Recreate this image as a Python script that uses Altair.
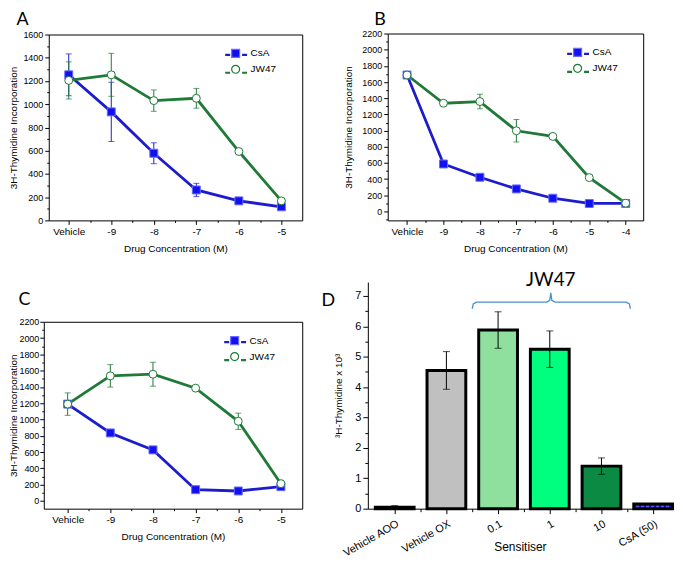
import altair as alt
import pandas as pd

# ---------------- data ----------------
A_labels = ["Vehicle", "-9", "-8", "-7", "-6", "-5"]
A_csa = [1253, 934, 578, 262, 168, 117]
A_csa_err = [180, 255, 90, 57, 0, 0]
A_jw = [1205, 1253, 1031, 1051, 593, 168]
A_jw_err = [160, 185, 92, 85, 15, 15]

B_labels = ["Vehicle", "-9", "-8", "-7", "-6", "-5", "-4"]
B_csa = [1687, 587, 423, 279, 164, 99, 99]
B_csa_err = [40, 0, 0, 0, 0, 0, 0]
B_jw = [1687, 1338, 1359, 998, 928, 419, 103]
B_jw_err = [40, 20, 90, 140, 20, 30, 30]

C_labels = ["Vehicle", "-9", "-8", "-7", "-6", "-5"]
C_csa = [1189, 835, 627, 138, 122, 175]
C_csa_err = [0, 0, 0, 0, 0, 0]
C_jw = [1189, 1536, 1556, 1385, 978, 212]
C_jw_err = [138, 138, 147, 15, 100, 40]

D_cats = ["Vehicle AOO", "Vehicle OX", "0.1", "1", "10", "CsA (50)"]
D_vals = [0.05, 4.55, 5.88, 5.25, 1.40, 0.15]
D_err = [0.05, 0.62, 0.60, 0.60, 0.27, 0.0]
D_colors = ["#000000", "#C0C0C0", "#8FE09E", "#00FF7F", "#0B8A44", "#1616A6"]

BRACE_X = [1.50, 1.52, 1.58, 2.94, 3.00, 3.02, 3.04, 3.10, 4.48, 4.54, 4.56]
BRACE_Y = [6.58, 6.74, 6.80, 6.80, 6.86, 7.10, 6.86, 6.80, 6.80, 6.74, 6.58]
BRACE_LABEL = ["JW47"]
BRACE_LABEL_X = [3.02]
BRACE_LABEL_Y = [7.33]

SERIES = ["CsA", "JW47"]

# ---------------- style / layout ----------------
FONT = "Liberation Sans"
LETTER_FONT = "Lato"
BLUE = "#1010F0"
BLUE_EDGE = "#6A6AFF"
BLUE_LINE = "#1C1CCC"
GREEN = "#1F7A38"
BRACE_COLOR = "#4A8FCC"
W, H = 667, 555  # whole drawing area


def line_panel(letter, labels, csa, csa_err, jw, jw_err, ydom, xdom, xr, yr,
               letter_xy, legend_xy, ylab_pad, ytitle_pad, major_max):
    rows = []
    for i in range(len(labels)):
        rows.append(dict(idx=i, series="CsA", value=csa[i], err=csa_err[i]))
        rows.append(dict(idx=i, series="JW47", value=jw[i], err=jw_err[i]))
    df = pd.DataFrame(rows)
    df["lo"] = df["value"] - df["err"]
    df["hi"] = df["value"] + df["err"]
    df["sl"] = df["series"]
    n = len(labels)
    label_expr = "[" + ",".join("'%s'" % l for l in labels) + "][datum.value]"

    xs = alt.Scale(domain=xdom, range=xr, nice=False, zero=False)
    ys = alt.Scale(domain=ydom, range=yr, nice=False, zero=False)
    major_y = list(range(0, major_max + 1, 200))
    minor_y = [v for v in range(-100, major_max, 200) if v >= ydom[0]]

    left_off = -xr[0]
    bottom_off = yr[0] - H
    top_off = -yr[1]
    right_off = xr[1] - W

    x_major = alt.Axis(
        values=list(range(n)), labelExpr=label_expr, title="Drug Concentration (M)",
        orient="bottom", offset=bottom_off, tickSize=4, labelPadding=2,
        titlePadding=7, labelFontSize=10, titleFontSize=10, labelOverlap=False,
        labelFlush=False, grid=False,
    )
    x_minor = alt.Axis(
        values=[i + 0.5 for i in range(n - 1)], labels=False, tickSize=2,
        domain=False, grid=False, title=None, orient="bottom", offset=bottom_off,
    )
    x_frame = alt.Axis(
        orient="top", offset=top_off, labels=False, ticks=False, grid=False,
        title=letter, titleX=letter_xy[0], titleY=letter_xy[1] - yr[1],
        titleAlign="left", titleBaseline="alphabetic", titleAngle=0,
        titleFont=LETTER_FONT, titleFontSize=18, titleFontWeight="normal",
    )
    y_major = alt.Axis(
        values=major_y, format="d", title="3H-Thymidine Incorporation",
        orient="left", offset=left_off, tickSize=4, labelPadding=ylab_pad,
        titlePadding=ytitle_pad, labelFontSize=9, titleFontSize=10, grid=False,
    )
    y_minor = alt.Axis(
        values=minor_y, labels=False, tickSize=2, domain=False, grid=False,
        title=None, orient="left", offset=left_off,
    )
    y_frame = alt.Axis(
        orient="right", offset=right_off, labels=False, ticks=False, grid=False,
        title=None,
    )

    dash_leg = alt.Legend(
        orient="none", legendX=legend_xy[0] - 7, legendY=legend_xy[1] - 6,
        title=None, symbolType="stroke", symbolSize=484, symbolStrokeWidth=2.2,
        symbolDash=[5, 12], labelExpr="''", labelOpacity=0, rowPadding=-10,
        padding=0,
    )
    pt_leg = alt.Legend(
        orient="none", legendX=legend_xy[0], legendY=legend_xy[1], title=None,
        symbolSize=64, symbolStrokeWidth=1.2, labelFont=FONT, labelFontSize=10,
        labelColor="#000000", labelOffset=10, rowPadding=2, padding=0,
    )

    base = alt.Chart(df)
    layers = []
    layers.append(base.mark_line(strokeWidth=2.8).encode(
        x=alt.X("idx:Q", scale=xs, axis=x_major),
        y=alt.Y("value:Q", scale=ys, axis=y_major),
        color=alt.Color("sl:N", scale=alt.Scale(range=[BLUE_LINE, GREEN]), legend=dash_leg),
        order="idx:Q",
    ))
    first = True
    for s, col in zip(SERIES, [BLUE_LINE, GREEN]):
        sub = base.transform_filter("datum.err > 0 && datum.series == '%s'" % s)
        layers.append(sub.mark_rule(strokeWidth=1, color=col).encode(
            x=alt.X("idx:Q", scale=xs, axis=x_minor if first else None),
            y=alt.Y("lo:Q", scale=ys, axis=y_minor if first else None),
            y2="hi:Q",
        ))
        layers.append(sub.transform_fold(["lo", "hi"], as_=["k", "v"]).mark_tick(
            orient="horizontal", size=6, thickness=1, color=col
        ).encode(
            x=alt.X("idx:Q", scale=xs, axis=None),
            y=alt.Y("v:Q", scale=ys, axis=None),
        ))
        first = False
    layers.append(base.mark_point(filled=True, size=64, opacity=1, strokeWidth=1).encode(
        x=alt.X("idx:Q", scale=xs, axis=x_frame),
        y=alt.Y("value:Q", scale=ys, axis=y_frame),
        shape=alt.Shape("series:N", scale=alt.Scale(domain=SERIES, range=["square", "circle"]), legend=pt_leg),
        fill=alt.Fill("series:N", scale=alt.Scale(domain=SERIES, range=[BLUE, "#FFFFFF"]), legend=pt_leg),
        stroke=alt.Stroke("series:N", scale=alt.Scale(domain=SERIES, range=[BLUE_EDGE, GREEN]), legend=pt_leg),
    ))
    return alt.layer(*layers).resolve_axis(x="independent", y="independent")


A = line_panel("A", A_labels, A_csa, A_csa_err, A_jw, A_jw_err, [0, 1600],
               [-0.47, 5.49], [40, 295], [212, 25], (7, 15), (223, 39), 2, 4, 1600)
B = line_panel("B", B_labels, B_csa, B_csa_err, B_jw, B_jw_err, [-110, 2200],
               [-0.53, 6.48], [381, 638], [212, 24], (367, 15), (567, 38), 2, 8, 2200)
C = line_panel("C", C_labels, C_csa, C_csa_err, C_jw, C_jw_err, [-95, 2200],
               [-0.56, 5.50], [35, 295], [502, 314], (9, 297), (222, 328), 1, 0, 2200)

# ---------------- panel D ----------------
dfD = pd.DataFrame({
    "idx": list(range(len(D_cats))),
    "cat": D_cats,
    "val": D_vals,
    "err": D_err,
    "color": D_colors,
})
xrD, yrD = [361, 667], [502, 274]
xsD = alt.Scale(domain=[-0.52, 5.365], range=xrD, nice=False, zero=False)
ysD = alt.Scale(domain=[0, 7.46], range=yrD, nice=False, zero=False)
labD = "[" + ",".join("'%s'" % c for c in D_cats) + "][datum.value]"

xD_major = alt.Axis(
    values=list(range(len(D_cats))), labelExpr=labD, title="Sensitiser",
    orient="bottom", offset=yrD[0] - H, labelAngle=330, labelAlign="right",
    labelBaseline="top", labelPadding=4, tickSize=5, labelFontSize=11,
    titleFontSize=12, titleY=33, titleBaseline="top", labelOverlap=False,
    labelFlush=False, grid=False,
)
xD_minor = alt.Axis(
    values=[i + 0.5 for i in range(len(D_cats) - 1)], labels=False, tickSize=3,
    domain=False, grid=False, orient="bottom", offset=yrD[0] - H,
    title="D", titleX=314, titleY=298 - yrD[0], titleAlign="left",
    titleBaseline="alphabetic", titleAngle=0, titleFont=LETTER_FONT,
    titleFontSize=18, titleFontWeight="normal",
)
yD_major = alt.Axis(
    values=list(range(0, 8)), title="³H-Thymidine x 10³", orient="left",
    offset=-xrD[0], tickSize=5, labelPadding=2, titlePadding=11,
    labelFontSize=11, titleFontSize=10, grid=False,
)
yD_minor = alt.Axis(
    values=[i + 0.5 for i in range(0, 7)], labels=False, tickSize=3,
    domain=False, grid=False, title=None, orient="left", offset=-xrD[0],
)

baseD = alt.Chart(dfD).transform_calculate(
    x0="datum.idx - 0.375", x1="datum.idx + 0.375",
    lo="datum.val - datum.err", hi="datum.val + datum.err",
)
bars = baseD.mark_rect(stroke="#000000", strokeWidth=3).encode(
    x=alt.X("x0:Q", scale=xsD, axis=xD_major),
    x2="x1:Q",
    y=alt.Y("val:Q", scale=ysD, axis=yD_major),
    y2=alt.datum(0),
    fill=alt.Fill("color:N", scale=None),
)
hatch = baseD.transform_filter("datum.cat == 'CsA (50)'").transform_calculate(
    h0="datum.idx - 0.33", h1="datum.idx + 0.33", hm="datum.val / 2"
).mark_rule(strokeDash=[3, 2], color="#5A5AF0", strokeWidth=1.5).encode(
    x=alt.X("h0:Q", scale=xsD, axis=xD_minor),
    x2="h1:Q",
    y=alt.Y("hm:Q", scale=ysD, axis=yD_minor),
)
errD = baseD.transform_filter("datum.err > 0").mark_rule(
    color="#000000", strokeWidth=1
).encode(
    x=alt.X("idx:Q", scale=xsD, axis=None),
    y=alt.Y("lo:Q", scale=ysD, axis=None),
    y2="hi:Q",
)
capsD = baseD.transform_filter("datum.err > 0").transform_fold(
    ["lo", "hi"], as_=["k", "v"]
).mark_tick(orient="horizontal", size=7, thickness=1, color="#000000").encode(
    x=alt.X("idx:Q", scale=xsD, axis=None),
    y=alt.Y("v:Q", scale=ysD, axis=None),
)
brace_df = pd.DataFrame({"bx": BRACE_X, "by": BRACE_Y, "o": list(range(len(BRACE_X)))})
brace = alt.Chart(brace_df).mark_line(color=BRACE_COLOR, strokeWidth=1.3).encode(
    x=alt.X("bx:Q", scale=xsD, axis=None),
    y=alt.Y("by:Q", scale=ysD, axis=None),
    order="o:Q",
)
brace_text_df = pd.DataFrame({"t": BRACE_LABEL, "tx": BRACE_LABEL_X, "ty": BRACE_LABEL_Y})
brace_text = alt.Chart(brace_text_df).mark_text(
    font=LETTER_FONT, fontSize=19, baseline="alphabetic", align="center", color="#000000"
).encode(
    x=alt.X("tx:Q", scale=xsD, axis=None),
    y=alt.Y("ty:Q", scale=ysD, axis=None),
    text="t:N",
)
D = alt.layer(bars, hatch, errD, capsD, brace, brace_text).resolve_axis(
    x="independent", y="independent"
)

chart = alt.layer(A, B, C, D).resolve_scale(
    x="independent", y="independent", color="independent", fill="independent",
    stroke="independent", shape="independent",
).resolve_axis(x="independent", y="independent").properties(
    width=W, height=H, padding=0, background="#FFFFFF",
    view=alt.ViewBackground(stroke="transparent"),
).configure_axis(
    labelFont=FONT, titleFont=FONT, labelColor="#000000", titleColor="#000000",
    tickColor="#000000", domainColor="#000000", titleFontWeight="normal",
).configure_legend(labelFont=FONT)

chart.save("out.html", embed_options={"renderer": "svg", "actions": False})
